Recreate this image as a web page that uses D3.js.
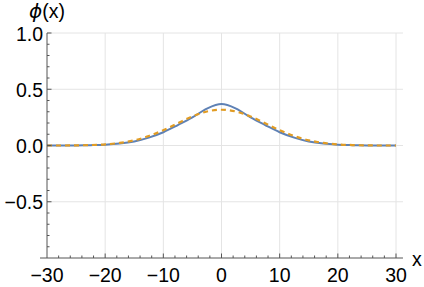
<!DOCTYPE html>
<html>
<head>
<meta charset="utf-8">
<script src="https://cdn.jsdelivr.net/npm/d3@7"></script>
<style>
	body { margin: 0; background: #fff; }
	svg { display: block; font-family: 'Liberation Sans', Arial, sans-serif; }
</style>
</head>
<body>
<div id="chart"></div>
<script>
// Data
const xValues = [-30, -27.5, -25, -22.5, -20, -17.5, -15, -12.5, -10, -7.5, -5, -2.5, 0,
	2.5, 5, 7.5, 10, 12.5, 15, 17.5, 20, 22.5, 25, 27.5, 30];
const solidSeries = [0, 0, 0.001, 0.003, 0.007, 0.017, 0.036, 0.07, 0.118, 0.182, 0.25, 0.328, 0.368,
	0.328, 0.25, 0.182, 0.118, 0.07, 0.036, 0.017, 0.007, 0.003, 0.001, 0, 0];
const dashedSeries = [0, 0, 0.001, 0.004, 0.01, 0.023, 0.046, 0.084, 0.136, 0.198, 0.258, 0.302, 0.318,
	0.302, 0.258, 0.198, 0.136, 0.084, 0.046, 0.023, 0.01, 0.004, 0.001, 0, 0];
const xTicks = [-30, -20, -10, 0, 10, 20, 30];
const yTicks = [-0.5, 0, 0.5, 1];
const xGrid = [-20, -10, 0, 10, 20, 30];
const yGrid = [-0.5, 0, 0.5, 1];

// Attribute
const width = 424;
const height = 287;
const fontSize = 19.5;
const axisColor = '#555';
const gridColor = '#e4e4e4';

const svg = d3.select('#chart').append('svg')
	.attr('width', width)
	.attr('height', height)
	.attr('viewBox', [0, 0, width, height]);

const x = d3.scaleLinear().domain([-30, 30]).range([47, 396]);
const y = d3.scaleLinear().domain([-1, 1]).range([258, 33]);
const xMin = -31.2;
const xMax = 31.2;

// Grid
svg.append('g')
	.selectAll('line')
	.data(xGrid)
	.join('line')
	.attr('x1', (d) => x(d))
	.attr('x2', (d) => x(d))
	.attr('y1', y(1))
	.attr('y2', y(-1))
	.attr('stroke', gridColor);

svg.append('g')
	.selectAll('line')
	.data(yGrid)
	.join('line')
	.attr('x1', x(-30))
	.attr('x2', x(xMax))
	.attr('y1', (d) => y(d))
	.attr('y2', (d) => y(d))
	.attr('stroke', gridColor);

// Curves
const line = d3.line()
	.x((d, i) => x(xValues[i]))
	.y((d) => y(d))
	.curve(d3.curveMonotoneX);

svg.append('path')
	.datum(solidSeries)
	.attr('d', line)
	.attr('fill', 'none')
	.attr('stroke', '#5e81b5')
	.attr('stroke-width', 2);

svg.append('path')
	.datum(dashedSeries)
	.attr('d', line)
	.attr('fill', 'none')
	.attr('stroke', '#e19c24')
	.attr('stroke-width', 2.2)
	.attr('stroke-dasharray', '5,4');

// Axes
const axes = svg.append('g').attr('stroke', axisColor).attr('stroke-width', 1);
axes.append('line')
	.attr('x1', x(xMin)).attr('x2', x(xMax))
	.attr('y1', y(-1)).attr('y2', y(-1));
axes.append('line')
	.attr('x1', x(-30)).attr('x2', x(-30))
	.attr('y1', y(1)).attr('y2', y(-1));

// x ticks: major every 10, minor every 2
const xMinor = d3.range(-30, 31, 2).filter((d) => d % 10 !== 0);
axes.selectAll('.xmajor')
	.data(xTicks.filter((d) => d !== -30))
	.join('line')
	.attr('x1', (d) => x(d)).attr('x2', (d) => x(d))
	.attr('y1', y(-1)).attr('y2', y(-1) - 4.5);
axes.selectAll('.xminor')
	.data(xMinor)
	.join('line')
	.attr('class', 'xminor')
	.attr('x1', (d) => x(d)).attr('x2', (d) => x(d))
	.attr('y1', y(-1)).attr('y2', y(-1) - 2.5);

// y ticks: major every 0.5, minor every 0.1
const yMinor = d3.range(-9, 10).map((d) => d / 10).filter((d) => Math.abs(d * 10) % 5 !== 0);
axes.selectAll('.ymajor')
	.data(yTicks)
	.join('line')
	.attr('class', 'ymajor')
	.attr('x1', x(-30)).attr('x2', x(-30) + 4.5)
	.attr('y1', (d) => y(d)).attr('y2', (d) => y(d));
axes.selectAll('.yminor')
	.data(yMinor)
	.join('line')
	.attr('class', 'yminor')
	.attr('x1', x(-30)).attr('x2', x(-30) + 2.5)
	.attr('y1', (d) => y(d)).attr('y2', (d) => y(d));

// Tick labels
const fmtY = (d) => d3.format('.1f')(d).replace('-', '\u2212');
const fmtX = (d) => String(d).replace('-', '\u2212');

svg.append('g')
	.selectAll('text')
	.data(xTicks)
	.join('text')
	.attr('x', (d) => x(d))
	.attr('y', 282)
	.attr('text-anchor', 'middle')
	.attr('font-size', fontSize)
	.text(fmtX);

svg.append('g')
	.selectAll('text')
	.data(yTicks)
	.join('text')
	.attr('x', 43)
	.attr('y', (d) => y(d) + 7.5)
	.attr('text-anchor', 'end')
	.attr('font-size', fontSize)
	.text(fmtY);

// Axis labels
const yLabel = svg.append('text')
	.attr('x', x(-30))
	.attr('y', 18)
	.attr('text-anchor', 'middle')
	.attr('font-size', fontSize);
yLabel.append('tspan')
	.attr('font-family', "'DejaVu Sans', sans-serif")
	.attr('font-style', 'italic')
	.attr('font-size', 20)
	.text('\u03d5');
yLabel.append('tspan').text('(x)');

svg.append('text')
	.attr('x', 412)
	.attr('y', 266)
	.attr('font-size', fontSize)
	.text('x');
</script>
</body>
</html>
